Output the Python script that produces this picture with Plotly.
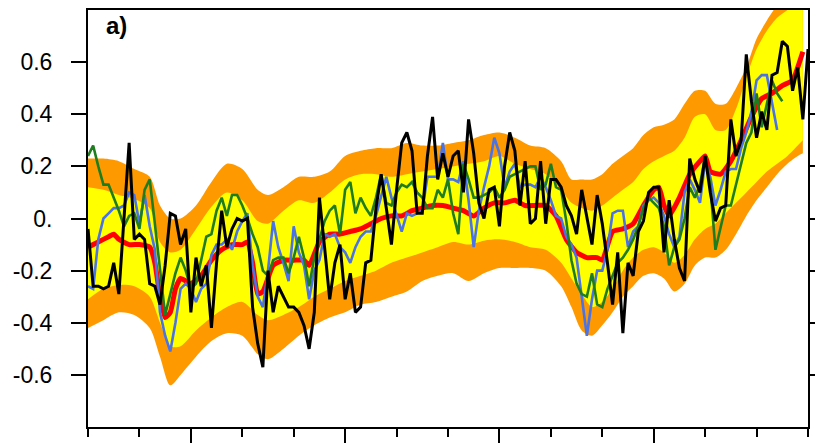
import plotly.graph_objects as go

# ---------------- data ----------------
years_obs = list(range(1860, 2001))
black_obs = [
    -0.04, -0.26, -0.26, -0.27, -0.26, -0.17, -0.29, 0.02, 0.29, -0.08,   # 1860-1869
    -0.06, -0.08, -0.25, -0.26, -0.33, -0.18, 0.02, 0.01, -0.10, -0.04,   # 1870-1879
    -0.36, -0.15, -0.26, -0.18, -0.42, -0.17, 0.03, -0.11, -0.04, 0.00,   # 1880-1889
    -0.01, 0.00, -0.34, -0.48, -0.57, -0.20, -0.36, -0.26, -0.30, -0.34,  # 1890-1899
    -0.34, -0.36, -0.41, -0.50, -0.36, 0.08, -0.11, -0.31, -0.17, -0.10,  # 1900-1909
    -0.31, -0.21, -0.36, -0.34, -0.17, -0.16, 0.04, 0.17, 0.04, -0.10,    # 1910-1919
    0.11, 0.29, 0.33, 0.26, 0.02, 0.02, 0.24, 0.39, 0.15, 0.25,           # 1920-1929
    0.16, 0.24, 0.26, 0.10, 0.38, 0.25, 0.06, 0.00, 0.11, 0.12,           # 1930-1939
    -0.03, 0.20, 0.33, 0.26, 0.05, 0.22, -0.02, 0.00, 0.22, -0.02,        # 1940-1949
    0.15, 0.15, 0.12, 0.05, 0.01, -0.06, 0.11, 0.01, -0.10, 0.09,         # 1950-1959
    -0.02, -0.17, -0.33, -0.13, -0.44, -0.17, -0.22, -0.05, -0.01, 0.10,  # 1960-1969
    0.12, 0.12, -0.13, 0.07, -0.08, -0.19, -0.24, 0.23, 0.15, 0.10,       # 1970-1979
    0.24, 0.10, -0.01, 0.04, 0.05, 0.38, 0.24, 0.30, 0.63, 0.45,          # 1980-1989
    0.31, 0.41, 0.34, 0.55, 0.56, 0.68, 0.66, 0.49, 0.58, 0.38,           # 1990-1999
    0.65,                                                                 # 2000
]

years_blue = list(range(1860, 1995))
blue_run = [
    -0.26, -0.27, -0.08, 0.00, 0.02, 0.04, 0.04, 0.05, 0.10, 0.09,        # 1860-1869
    -0.02, 0.09, -0.03, -0.12, -0.36, -0.45, -0.51, -0.40, -0.27, -0.25,  # 1870-1879
    -0.27, -0.32, -0.27, -0.25, -0.14, -0.10, -0.10, -0.08, -0.12, -0.05, # 1880-1889
    -0.01, 0.02, -0.18, -0.30, -0.34, -0.20, -0.01, -0.11, -0.17, -0.24,  # 1890-1899
    -0.03, -0.13, -0.18, -0.31, -0.20, -0.16, -0.06, -0.07, -0.06, -0.11, # 1900-1909
    -0.13, -0.17, -0.11, -0.07, -0.05, -0.05, 0.01, 0.09, 0.16, 0.08,     # 1910-1919
    0.01, -0.05, 0.02, 0.01, 0.02, 0.03, 0.16, 0.16, 0.16, 0.29,          # 1920-1929
    0.15, 0.15, 0.14, 0.22, 0.07, -0.11, 0.03, 0.12, 0.20, 0.31,          # 1930-1939
    0.25, 0.12, 0.18, 0.21, 0.12, 0.13, 0.13, 0.12, 0.16, 0.12,           # 1940-1949
    0.07, 0.01, 0.00, -0.07, -0.10, -0.15, -0.29, -0.45, -0.31, -0.20,    # 1950-1959
    -0.20, -0.12, 0.02, 0.03, 0.03, -0.11, -0.05, -0.03, 0.05, 0.07,      # 1960-1969
    0.08, 0.06, 0.01, -0.06, -0.11, -0.07, 0.10, 0.15, 0.11, 0.06,        # 1970-1979
    0.22, 0.16, 0.05, 0.11, 0.18, 0.19, 0.19, 0.27, 0.33, 0.41,           # 1980-1989
    0.53, 0.55, 0.55, 0.45, 0.34,                                         # 1990-1994
]

years_green = list(range(1860, 1996))
green_run = [
    0.24, 0.28, 0.20, 0.13, 0.13, 0.08, 0.03, -0.03, 0.01, 0.02,          # 1860-1869
    -0.04, 0.11, 0.15, -0.02, -0.20, -0.37, -0.29, -0.21, -0.15, -0.20,   # 1870-1879
    -0.27, -0.25, -0.16, -0.07, -0.06, 0.03, 0.08, 0.01, 0.09, 0.09,      # 1880-1889
    0.05, 0.00, -0.06, -0.11, -0.20, -0.22, -0.16, -0.15, -0.15, -0.21,   # 1890-1899
    -0.15, -0.07, -0.15, -0.26, -0.15, -0.08, -0.01, 0.03, 0.05, -0.06,   # 1900-1909
    0.11, 0.14, 0.02, 0.08, 0.04, 0.01, 0.08, 0.17, 0.06, 0.05,           # 1910-1919
    0.10, 0.13, 0.12, 0.14, 0.10, 0.08, 0.04, 0.04, 0.11, 0.08,           # 1920-1929
    0.15, 0.02, -0.06, 0.21, 0.15, 0.08, 0.08, 0.09, 0.10, 0.12,          # 1930-1939
    0.08, 0.11, 0.16, 0.17, 0.18, 0.19, 0.20, 0.20, 0.11, 0.13,           # 1940-1949
    0.21, 0.12, 0.11, -0.01, -0.16, -0.25, -0.29, -0.30, -0.21, -0.33,    # 1950-1959
    -0.34, -0.27, -0.22, -0.17, -0.15, -0.12, -0.08, -0.03, 0.04, 0.08,   # 1960-1969
    0.06, 0.04, -0.03, -0.18, -0.11, -0.08, 0.00, 0.12, 0.08, 0.13,       # 1970-1979
    0.24, 0.13, -0.12, -0.04, 0.05, 0.05, 0.13, 0.21, 0.29, 0.33,         # 1980-1989
    0.48, 0.35, 0.44, 0.53, 0.48, 0.45,                                   # 1990-1995
]

years_mean = [1860, 1862, 1864, 1865, 1866, 1868, 1870, 1872, 1873, 1874, 1875, 1876,
              1877, 1878, 1880, 1882, 1884, 1886, 1888, 1890, 1891, 1892, 1893, 1894,
              1896, 1898, 1900, 1902, 1903, 1905, 1907, 1909, 1911, 1913, 1915, 1917,
              1919, 1921, 1923, 1925, 1927, 1929, 1931, 1933, 1935, 1937, 1939, 1941,
              1943, 1945, 1947, 1949, 1951, 1953, 1955, 1957, 1959, 1960, 1962, 1964,
              1966, 1968, 1970, 1971, 1972, 1973, 1975, 1977, 1979, 1980, 1981, 1983,
              1985, 1987, 1989, 1991, 1993, 1995, 1997, 1998, 1999]
ens_mean = [-0.11, -0.09, -0.07, -0.06, -0.08, -0.10, -0.10, -0.11, -0.17, -0.30, -0.38, -0.36,
            -0.27, -0.23, -0.25, -0.22, -0.16, -0.12, -0.10, -0.10, -0.09, -0.17, -0.29, -0.28,
            -0.18, -0.16, -0.16, -0.16, -0.18, -0.09, -0.06, -0.06, -0.05, -0.04, -0.02, 0.00,
            0.01, 0.01, 0.03, 0.04, 0.05, 0.05, 0.04, 0.03, 0.01, 0.04, 0.06, 0.06,
            0.07, 0.05, 0.05, 0.05, 0.01, -0.08, -0.13, -0.15, -0.15, -0.16, -0.05, -0.04,
            -0.02, 0.05, 0.11, 0.12, 0.05, 0.01, 0.08, 0.17, 0.22, 0.24, 0.18, 0.17,
            0.22, 0.30, 0.39, 0.46, 0.48, 0.51, 0.53, 0.58, 0.64]

years_band = [1860, 1863, 1866, 1869, 1872, 1874, 1876, 1878, 1881, 1884, 1887, 1890,
              1893, 1895, 1898, 1901, 1904, 1907, 1910, 1913, 1916, 1919, 1922, 1925,
              1928, 1931, 1934, 1937, 1940, 1943, 1946, 1949, 1952, 1954, 1956, 1958,
              1960, 1962, 1964, 1966, 1968, 1970, 1972, 1974, 1976, 1978, 1980, 1982,
              1984, 1986, 1988, 1990, 1992, 1994, 1996, 1998, 1999]
outer_upper = [0.23, 0.23, 0.22, 0.19, 0.16, 0.05, 0.00, 0.00, 0.05, 0.14, 0.21, 0.19,
               0.11, 0.09, 0.12, 0.16, 0.16, 0.18, 0.24, 0.26, 0.27, 0.27, 0.29, 0.28,
               0.28, 0.29, 0.30, 0.32, 0.33, 0.31, 0.28, 0.27, 0.22, 0.15, 0.15, 0.15,
               0.17, 0.21, 0.24, 0.27, 0.32, 0.35, 0.36, 0.38, 0.44, 0.49, 0.49, 0.44,
               0.44, 0.50, 0.58, 0.69, 0.76, 0.82, 0.88, 0.92, 0.94]
inner_upper = [0.12, 0.11, 0.09, 0.075, 0.04, -0.09, -0.13, -0.12, -0.04, 0.045, 0.10, 0.07,
               -0.01, -0.02, 0.03, 0.07, 0.06, 0.10, 0.15, 0.17, 0.17, 0.16, 0.17, 0.18,
               0.19, 0.20, 0.21, 0.22, 0.24, 0.21, 0.19, 0.17, 0.11, 0.06, 0.04, 0.03,
               0.05, 0.08, 0.11, 0.14, 0.19, 0.22, 0.24, 0.26, 0.31, 0.39, 0.40, 0.34,
               0.34, 0.42, 0.54, 0.65, 0.72, 0.77, 0.80, 0.84, 0.86]
inner_lower = [-0.31, -0.27, -0.255, -0.26, -0.30, -0.40, -0.49, -0.49, -0.43, -0.38, -0.34, -0.32,
               -0.37, -0.39, -0.37, -0.34, -0.30, -0.27, -0.24, -0.22, -0.20, -0.17, -0.15, -0.13,
               -0.11, -0.09, -0.10, -0.085, -0.08, -0.09, -0.11, -0.12, -0.17, -0.23, -0.29, -0.34,
               -0.32, -0.27, -0.20, -0.15, -0.12, -0.11, -0.13, -0.17, -0.14, -0.08, -0.04, -0.02,
               0.02, 0.06, 0.10, 0.14, 0.18, 0.21, 0.24, 0.28, 0.30]
outer_lower = [-0.42, -0.39, -0.36, -0.37, -0.42, -0.53, -0.64, -0.60, -0.53, -0.47, -0.44, -0.45,
               -0.52, -0.54, -0.50, -0.45, -0.41, -0.38, -0.36, -0.33, -0.32, -0.30, -0.28, -0.24,
               -0.22, -0.21, -0.24, -0.21, -0.19, -0.19, -0.19, -0.20, -0.26, -0.34, -0.43, -0.45,
               -0.41, -0.36, -0.30, -0.26, -0.22, -0.21, -0.23, -0.28, -0.25, -0.18, -0.15, -0.15,
               -0.12, -0.06, 0.01, 0.07, 0.12, 0.17, 0.21, 0.24, 0.25]

y_tickvals = [-0.6, -0.4, -0.2, 0.0, 0.2, 0.4, 0.6]
y_ticktext = ["-0.6", "-0.4", "-0.2", "0.", "0.2", "0.4", "0.6"]
x_major = [1880, 1910, 1940, 1970]
panel_label = "a)"

# ---------------- figure ----------------
ORANGE = "#FF9900"
YELLOW = "#FFFF00"
FONT = "Liberation Sans, Arial, sans-serif"

fig = go.Figure()
fig.add_trace(go.Scatter(x=years_band, y=outer_lower, mode="lines",
                         line=dict(width=0, shape="spline", smoothing=0.8),
                         hoverinfo="skip", showlegend=False))
fig.add_trace(go.Scatter(x=years_band, y=outer_upper, mode="lines",
                         line=dict(width=0, shape="spline", smoothing=0.8),
                         fill="tonexty", fillcolor=ORANGE,
                         hoverinfo="skip", showlegend=False))
fig.add_trace(go.Scatter(x=years_band, y=inner_lower, mode="lines",
                         line=dict(width=0, shape="spline", smoothing=0.8),
                         hoverinfo="skip", showlegend=False))
fig.add_trace(go.Scatter(x=years_band, y=inner_upper, mode="lines",
                         line=dict(width=0, shape="spline", smoothing=0.8),
                         fill="tonexty", fillcolor=YELLOW,
                         hoverinfo="skip", showlegend=False))
fig.add_trace(go.Scatter(x=years_mean, y=ens_mean, mode="lines",
                         line=dict(color="#FF0000", width=5, shape="spline", smoothing=0.5),
                         showlegend=False))
fig.add_trace(go.Scatter(x=years_blue, y=blue_run, mode="lines",
                         line=dict(color="#4A73E6", width=2.6),
                         showlegend=False))
fig.add_trace(go.Scatter(x=years_green, y=green_run, mode="lines",
                         line=dict(color="#1E7D1E", width=2.6),
                         showlegend=False))
fig.add_trace(go.Scatter(x=years_obs, y=black_obs, mode="lines",
                         line=dict(color="#000000", width=3),
                         showlegend=False))

fig.add_annotation(text="<b>" + panel_label + "</b>", xref="paper", yref="paper",
                   x=0.022, y=1.0, xanchor="left", yanchor="top", showarrow=False,
                   font=dict(family=FONT, size=24, color="black"))

fig.update_xaxes(range=[1860, 2000], showgrid=False, zeroline=False, automargin=False,
                 showline=True, linecolor="black", linewidth=2, mirror=True,
                 tickmode="array", tickvals=x_major, ticks="outside", ticklen=16,
                 tickwidth=2, tickcolor="black", showticklabels=False,
                 minor=dict(dtick=10, tick0=1860, ticks="outside", ticklen=8,
                            tickwidth=2, tickcolor="black", showgrid=False))
fig.update_yaxes(range=[-0.8, 0.8], showgrid=False, zeroline=False, automargin=False,
                 showline=True, linecolor="black", linewidth=2, mirror="ticks",
                 tickmode="array", tickvals=y_tickvals, ticktext=y_ticktext,
                 ticks="outside", ticklen=15, tickwidth=2, tickcolor="black",
                 tickfont=dict(family=FONT, size=23, color="black"),
                 ticklabelstandoff=14)

# the page body adds an 8px offset, so the figure is sized to fill the rest of the window
fig.update_layout(width=815, height=435, margin=dict(l=80, r=15, t=2, b=16, autoexpand=False),
                  plot_bgcolor="white", paper_bgcolor="white", showlegend=False)

fig.write_html("out.html")
